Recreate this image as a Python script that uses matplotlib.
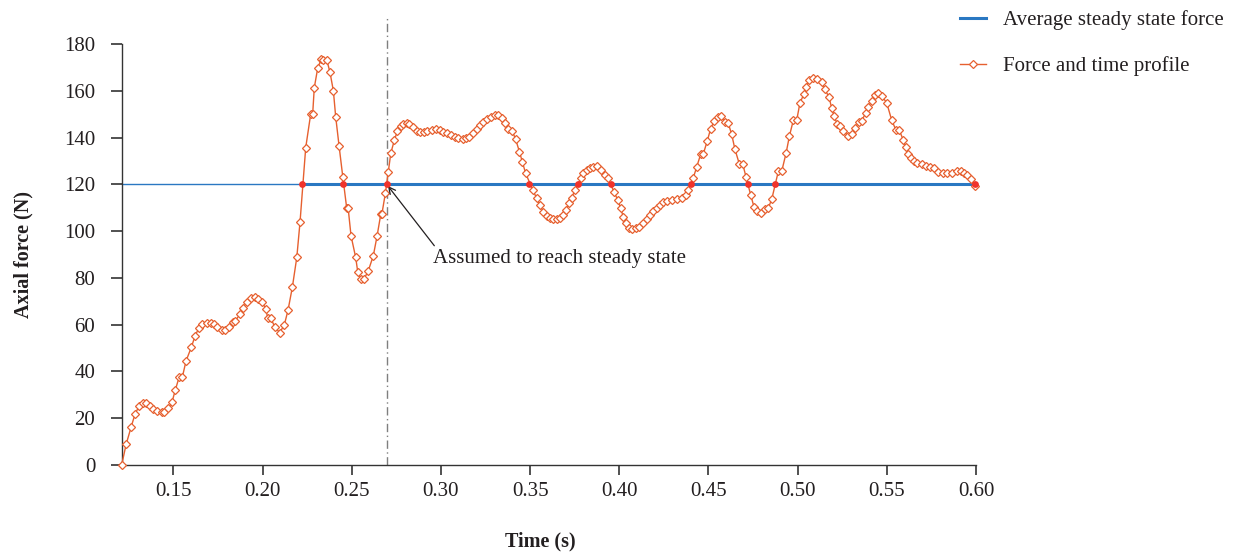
import matplotlib
matplotlib.use("Agg")
import matplotlib.pyplot as plt

# ---- data ----
time_s = [0.121, 0.1235, 0.1263, 0.1285, 0.1308, 0.1332, 0.1345, 0.1368, 0.1388, 0.1407,
          0.1435, 0.145, 0.1472, 0.1493, 0.1511, 0.1532, 0.155, 0.1571, 0.1601, 0.1622,
          0.1642, 0.1663, 0.1687, 0.171, 0.1726, 0.1747, 0.1775, 0.179, 0.1814, 0.1833,
          0.1846, 0.1872, 0.1891, 0.1911, 0.1936, 0.1958, 0.1976, 0.1997, 0.2018, 0.2029,
          0.2046, 0.2068, 0.2096, 0.2122, 0.2143, 0.2167, 0.2192, 0.221, 0.2242, 0.227,
          0.2281, 0.229, 0.2309, 0.2328, 0.2341, 0.236, 0.2378, 0.2397, 0.241, 0.2429,
          0.245, 0.2472, 0.248, 0.2496, 0.2522, 0.2534, 0.2552, 0.2569, 0.2593, 0.2621,
          0.2642, 0.2663, 0.2669, 0.2689, 0.2705, 0.2719, 0.2739, 0.2756, 0.2775, 0.279,
          0.2808, 0.2823, 0.2842, 0.2864, 0.2883, 0.2907, 0.2924, 0.2948, 0.2972, 0.2995,
          0.3014, 0.3036, 0.3057, 0.3079, 0.3098, 0.3122, 0.3141, 0.316, 0.3178, 0.3201,
          0.3219, 0.3238, 0.3257, 0.3279, 0.3303, 0.3322, 0.3341, 0.3359, 0.3378, 0.34,
          0.3419, 0.344, 0.3456, 0.3475, 0.3515, 0.3537, 0.3555, 0.3574, 0.3593, 0.3612,
          0.363, 0.3649, 0.3668, 0.3686, 0.3701, 0.372, 0.3733, 0.3752, 0.3786, 0.3799,
          0.3818, 0.3837, 0.3855, 0.3874, 0.3898, 0.3921, 0.3936, 0.397, 0.399, 0.4008,
          0.4022, 0.4038, 0.4054, 0.4071, 0.4093, 0.4112, 0.4134, 0.4153, 0.4172, 0.419,
          0.4209, 0.4228, 0.4247, 0.4266, 0.4294, 0.4322, 0.435, 0.4374, 0.4387, 0.4415,
          0.4434, 0.4456, 0.4471, 0.4493, 0.4512, 0.4532, 0.4551, 0.4568, 0.4592, 0.4611,
          0.463, 0.4648, 0.4673, 0.4692, 0.471, 0.4737, 0.4755, 0.4774, 0.4795, 0.4817,
          0.4836, 0.4855, 0.4892, 0.4911, 0.4935, 0.4954, 0.4976, 0.4995, 0.5013, 0.5035,
          0.5047, 0.5065, 0.5088, 0.5107, 0.5135, 0.5153, 0.5176, 0.5191, 0.5204, 0.5222,
          0.5237, 0.5256, 0.5284, 0.5303, 0.5321, 0.5344, 0.5359, 0.5381, 0.5396, 0.5415,
          0.5433, 0.5452, 0.5471, 0.5499, 0.5527, 0.5551, 0.557, 0.5592, 0.5607, 0.562,
          0.5634, 0.5652, 0.5671, 0.5695, 0.5718, 0.5742, 0.5764, 0.5789, 0.5817, 0.5839,
          0.5864, 0.5892, 0.5916, 0.5935, 0.5952, 0.5971, 0.5995]

force_n = [0, 8.8, 16.2, 21.8, 25.2, 26.4, 26.4, 25.4, 24.1, 22.9,
           22.6, 22.6, 24.2, 27.1, 32.1, 37.5, 37.5, 44.5, 50.4, 55.3,
           58.4, 60.4, 60.8, 60.8, 60.1, 59.1, 57.8, 57.8, 59.0, 61.0,
           61.4, 64.4, 67.1, 69.8, 71.4, 71.8, 71.0, 69.8, 66.8, 62.8,
           62.8, 59.1, 56.6, 59.9, 66.3, 76.0, 88.8, 103.8, 135.7, 150.1,
           150.1, 161.3, 169.6, 173.4, 173.2, 173.2, 167.9, 160.0, 148.9, 136.4,
           123.1, 109.7, 109.7, 98.0, 88.8, 82.4, 79.5, 79.5, 83.1, 89.5,
           97.9, 107.3, 107.3, 116.4, 125.4, 133.3, 138.9, 142.8, 144.9, 145.8,
           146.1, 145.7, 144.4, 142.9, 142.4, 142.2, 142.7, 143.2, 143.5, 143.2,
           142.5, 142.1, 141.1, 140.4, 139.8, 139.4, 139.6, 140.4, 141.8, 143.5,
           145.2, 146.6, 147.8, 148.9, 149.6, 149.6, 148.2, 146.3, 143.5, 142.8,
           139.2, 134.0, 129.7, 124.7, 117.6, 114.0, 111.2, 108.3, 106.5, 105.5,
           105.0, 105.0, 105.5, 106.9, 109.0, 111.9, 114.3, 117.6, 122.6, 124.7,
           126.1, 126.8, 127.5, 127.8, 126.1, 124.0, 122.6, 116.8, 113.5, 109.7,
           106.2, 103.3, 101.5, 100.9, 101.2, 101.9, 103.3, 105.2, 106.9, 108.6,
           110.0, 111.2, 112.3, 113.0, 113.3, 113.6, 114.0, 115.4, 117.6, 122.8,
           127.5, 132.8, 133.0, 138.5, 143.7, 147.1, 148.9, 149.2, 146.8, 146.1,
           141.4, 135.1, 128.7, 128.7, 123.3, 115.4, 110.4, 108.7, 107.9, 109.4,
           110.0, 113.7, 125.7, 125.7, 133.3, 140.7, 147.5, 147.5, 154.9, 158.5,
           161.7, 164.6, 165.3, 164.9, 163.9, 160.6, 157.2, 152.5, 149.3, 145.7,
           144.9, 142.8, 140.7, 141.5, 144.0, 146.8, 147.2, 150.4, 153.2, 155.6,
           158.2, 158.9, 157.8, 154.9, 147.5, 143.2, 143.2, 138.9, 135.8, 133.0,
           131.4, 130.1, 129.2, 128.9, 127.8, 127.3, 126.8, 125.4, 124.7, 124.7,
           124.7, 125.7, 125.7, 124.7, 124.0, 122.1, 119.3]

average_force = 120.0
crossing_t = [0.2223, 0.2453, 0.2698, 0.3495, 0.3771, 0.3954, 0.4400, 0.4720, 0.4873, 0.5995]
steady_time = 0.27
x_ticks = [0.15, 0.20, 0.25, 0.30, 0.35, 0.40, 0.45, 0.50, 0.55, 0.60]
y_ticks = [0, 20, 40, 60, 80, 100, 120, 140, 160, 180]

# ---- styling ----
plt.rcParams['font.family'] = ['Liberation Serif', 'DejaVu Serif']
ORANGE = '#e6602f'
BLUE = '#2a78c2'
RED = '#f0332b'
TXT = '#231f20'
FS = 15

fig = plt.figure(figsize=(12.35, 5.54), dpi=100)
ax = fig.add_axes([0.0985, 0.1606, 0.6918, 0.76])

x0, x1 = 0.121, 0.60
# average line: thin before first crossing, thick afterwards
ax.plot([x0, crossing_t[0]], [average_force, average_force], color=BLUE, lw=1.0, zorder=2)
avg_line, = ax.plot([crossing_t[0], x1], [average_force, average_force], color=BLUE, lw=2.2,
                    zorder=2, label='Average steady state force')

prof_line, = ax.plot(time_s, force_n, color=ORANGE, lw=1.0, marker='D', markersize=4.2,
                     markerfacecolor='white', markeredgecolor=ORANGE, markeredgewidth=0.9,
                     zorder=3, label='Force and time profile', clip_on=False)

ax.scatter(crossing_t, [average_force] * len(crossing_t), s=24, color=RED, zorder=4,
           clip_on=False, linewidths=0)

# steady-state vertical marker
ax.plot([steady_time, steady_time], [0, 191], color='#7f7f7f', lw=1.0,
        dashes=(6, 2.5, 1, 2.5), zorder=1, clip_on=False)

ax.annotate('Assumed to reach steady state', xy=(0.2703, 119.3), xytext=(0.2955, 88.5),
            fontsize=FS, color=TXT, va='center', ha='left',
            arrowprops=dict(arrowstyle='->', color=TXT, lw=0.9, shrinkA=0, shrinkB=0,
                            mutation_scale=12, relpos=(0.02, 0.9)))

ax.set_xlim(x0, x1)
ax.set_ylim(0, 180)
ax.set_xticks(x_ticks)
ax.set_xticklabels([f'{v:.2f}' for v in x_ticks])
ax.set_yticks(y_ticks)
ax.set_yticklabels([str(v) for v in y_ticks])

for s in ['top', 'right']:
    ax.spines[s].set_visible(False)
for s in ['left', 'bottom']:
    ax.spines[s].set_color('#333333')
    ax.spines[s].set_linewidth(1.0)

ax.tick_params(axis='y', direction='out', length=8, width=1.2, color='#333333',
               labelsize=FS, labelcolor=TXT, pad=11)
ax.tick_params(axis='x', direction='out', length=7, width=1.2, color='#333333',
               labelsize=FS, labelcolor=TXT, pad=5)

ax.set_xlabel('Time (s)', fontsize=14.5, fontweight='bold', color=TXT, va='center')
ax.xaxis.set_label_coords(0.49, -0.181)
ax.set_ylabel('Axial force (N)', fontsize=14.5, fontweight='bold', color=TXT, va='center')
ax.yaxis.set_label_coords(-0.115, 0.5)

fig.legend(handles=[avg_line, prof_line], loc='upper left',
           bbox_to_anchor=(0.777, 0.981), frameon=False, fontsize=FS,
           handlelength=1.25, handletextpad=0.85, labelspacing=1.25, numpoints=1,
           borderpad=0, borderaxespad=0, labelcolor=TXT)

fig.savefig('out.png', dpi=100)
